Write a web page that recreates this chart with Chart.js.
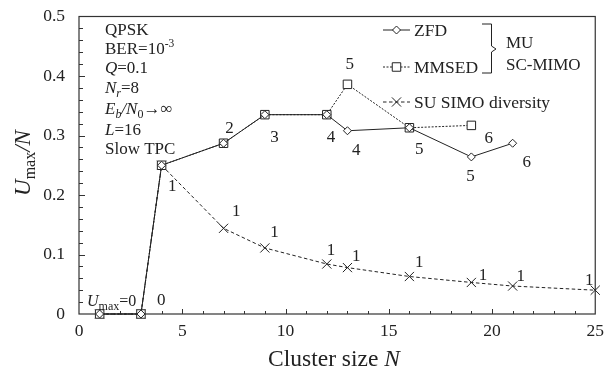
<!DOCTYPE html>
<html>
<head>
<meta charset="utf-8">
<script src="https://cdn.jsdelivr.net/npm/chart.js@4.4.1/dist/chart.umd.min.js"></script>
<style>
  html, body { margin: 0; padding: 0; background: #fff; }
</style>
</head>
<body>
<canvas id="chartCanvas" width="611" height="372"></canvas>
<script>
// --- data ---
const zfdSizes = [1, 3, 4, 7, 9, 12, 13, 16, 19, 21];
const zfdValues = [0, 0, 0.25, 0.287, 0.335, 0.335, 0.308, 0.313, 0.264, 0.287];

const mmsedSizes = [1, 3, 4, 7, 9, 12, 13, 16, 19];
const mmsedValues = [0, 0, 0.25, 0.287, 0.335, 0.335, 0.386, 0.313, 0.317];

const suSizes = [1, 3, 4, 7, 9, 12, 13, 16, 19, 21, 25];
const suValues = [0, 0, 0.25, 0.144, 0.111, 0.084, 0.078, 0.063, 0.053, 0.047, 0.040];

const xTicks = [0, 5, 10, 15, 20, 25];
const yTicks = [0, 0.1, 0.2, 0.3, 0.4, 0.5];

// number of users served, written next to the points (data coords)
const userLabels = ["1", "2", "3", "4", "5", "4", "5", "6", "5", "6",
                    "1", "1", "1", "1", "1", "1", "1", "1", "0"];
const userLabelX = [4.52, 7.29, 9.47, 12.2, 13.11, 13.43, 16.48, 19.84, 18.96, 21.68,
                    7.61, 9.47, 12.2, 13.43, 16.48, 19.57, 21.39, 24.71, 3.98];
const userLabelY = [0.215, 0.312, 0.297, 0.297, 0.42, 0.2745, 0.276, 0.2955, 0.2317, 0.254,
                    0.172, 0.137, 0.107, 0.097, 0.087, 0.065, 0.063, 0.0555, 0.023];

const INK = "#222";
const SERIF = "'Liberation Serif', 'DejaVu Serif', serif";

const toPoints = (xs, ys) => xs.map((x, i) => ({ x, y: ys[i] }));

// draws a run of text pieces, each with its own font and vertical shift
function drawRich(ctx, parts, x, y, align) {
  let total = 0;
  parts.forEach(p => { ctx.font = p.font; total += ctx.measureText(p.text).width; });
  let cx = align === "center" ? x - total / 2 : x;
  ctx.textAlign = "left";
  ctx.textBaseline = "alphabetic";
  parts.forEach(p => {
    ctx.font = p.font;
    ctx.fillText(p.text, cx, y + (p.dy || 0));
    cx += ctx.measureText(p.text).width;
  });
}

const f = (size, style) => `${style || ""} ${size}px ${SERIF}`;

// --- frame, inward ticks ---
const framePlugin = {
  id: "frame",
  beforeDatasetsDraw(chart) {
    const { ctx, chartArea: a, scales: { x, y } } = chart;
    ctx.save();
    ctx.strokeStyle = "#333";
    ctx.lineWidth = 1.2;
    ctx.strokeRect(a.left, a.top, a.right - a.left, a.bottom - a.top);
    ctx.lineWidth = 1;
    ctx.beginPath();
    for (let i = 1; i < 25; i++) {
      const px = Math.round(x.getPixelForValue(i)) + 0.5;
      const len = i % 5 === 0 ? 5 : 3;
      ctx.moveTo(px, a.bottom);
      ctx.lineTo(px, a.bottom - len);
    }
    for (let j = 1; j < 25; j++) {
      const py = Math.round(y.getPixelForValue(j * 0.02)) + 0.5;
      const len = j % 5 === 0 ? 6 : 4;
      ctx.moveTo(a.left, py);
      ctx.lineTo(a.left + len, py);
    }
    ctx.stroke();
    ctx.restore();
  }
};

// --- texts, legend, bracket, axis titles ---
const notesPlugin = {
  id: "notes",
  afterDraw(chart) {
    const { ctx, scales: { x, y } } = chart;
    ctx.save();
    ctx.fillStyle = INK;

    // user counts
    ctx.font = f(17);
    ctx.textAlign = "center";
    ctx.textBaseline = "middle";
    userLabels.forEach((t, i) => {
      ctx.fillText(t, x.getPixelForValue(userLabelX[i]), y.getPixelForValue(userLabelY[i]));
    });

    // U_max = 0
    drawRich(ctx, [
      { text: "U", font: f(16, "italic") },
      { text: "max", font: f(12), dy: 4 },
      { text: "=0", font: f(16) }
    ], 87, 306);

    // parameter block
    const lx = 105;
    drawRich(ctx, [{ text: "QPSK", font: f(17) }], lx, 35);
    drawRich(ctx, [{ text: "BER=10", font: f(17) }, { text: "-3", font: f(11.5), dy: -7 }], lx, 54);
    drawRich(ctx, [{ text: "Q", font: f(17, "italic") }, { text: "=0.1", font: f(17) }], lx, 73);
    drawRich(ctx, [
      { text: "N", font: f(17, "italic") },
      { text: "r", font: f(12, "italic"), dy: 4 },
      { text: "=8", font: f(17) }
    ], lx, 93);
    drawRich(ctx, [
      { text: "E", font: f(17, "italic") },
      { text: "b", font: f(12, "italic"), dy: 4 },
      { text: "/", font: f(17, "italic") },
      { text: "N", font: f(17, "italic") },
      { text: "0", font: f(12), dy: 4 },
      { text: "\u2192\u221E", font: f(17) }
    ], lx, 114);
    drawRich(ctx, [{ text: "L", font: f(17, "italic") }, { text: "=16", font: f(17) }], lx, 135);
    drawRich(ctx, [{ text: "Slow TPC", font: f(17) }], lx, 154);

    // legend
    const legend = [
      { label: "ZFD", y: 30, dash: [], style: "rectRot", r: 4 },
      { label: "MMSED", y: 67, dash: [2, 1.5], style: "rect", r: 6 },
      { label: "SU SIMO diversity", y: 102, dash: [3.5, 2.5], style: "crossRot", r: 6.5 }
    ];
    legend.forEach(it => {
      ctx.strokeStyle = INK;
      ctx.lineWidth = 1;
      ctx.setLineDash(it.dash);
      ctx.beginPath();
      ctx.moveTo(383, it.y);
      ctx.lineTo(410, it.y);
      ctx.stroke();
      ctx.setLineDash([]);
      ctx.fillStyle = "#fff";
      Chart.helpers.drawPoint(ctx, { pointStyle: it.style, radius: it.r, borderWidth: 1 }, 396.5, it.y);
      ctx.fillStyle = INK;
      drawRich(ctx, [{ text: it.label, font: f(17.5) }], 414, it.y + 6);
    });

    // bracket grouping ZFD and MMSED
    ctx.strokeStyle = INK;
    ctx.lineWidth = 1;
    ctx.beginPath();
    ctx.moveTo(482, 24);
    ctx.lineTo(491.5, 24);
    ctx.lineTo(491.5, 46);
    ctx.lineTo(496, 49);
    ctx.lineTo(491.5, 52);
    ctx.lineTo(491.5, 73);
    ctx.lineTo(482, 73);
    ctx.stroke();
    drawRich(ctx, [{ text: "MU", font: f(17) }], 506, 48);
    drawRich(ctx, [{ text: "SC-MIMO", font: f(17) }], 506, 70);

    // axis titles
    drawRich(ctx, [
      { text: "Cluster size ", font: f(23.5) },
      { text: "N", font: f(23.5, "italic") }
    ], 334, 366, "center");

    ctx.translate(30, 163);
    ctx.rotate(-Math.PI / 2);
    drawRich(ctx, [
      { text: "U", font: f(23, "italic") },
      { text: "max", font: f(16), dy: 5 },
      { text: "/N", font: f(23, "italic") }
    ], 0, 0, "center");
    ctx.restore();
  }
};

const lineBase = {
  showLine: true,
  borderColor: INK,
  borderWidth: 1,
  pointBorderColor: INK,
  pointBackgroundColor: "#fff",
  pointBorderWidth: 1,
  clip: false
};

new Chart(document.getElementById("chartCanvas"), {
  type: "scatter",
  data: {
    datasets: [
      { ...lineBase, label: "ZFD", data: toPoints(zfdSizes, zfdValues),
        pointStyle: "rectRot", pointRadius: 4 },
      { ...lineBase, label: "MMSED", data: toPoints(mmsedSizes, mmsedValues),
        borderDash: [2, 1.5], pointStyle: "rect", pointRadius: 6 },
      { ...lineBase, label: "SU SIMO diversity", data: toPoints(suSizes, suValues),
        borderDash: [3.5, 2.5], pointStyle: "crossRot", pointRadius: 6.5 }
    ]
  },
  options: {
    responsive: false,
    animation: false,
    layout: { padding: { top: 14, right: 11, left: 0, bottom: 0 } },
    plugins: {
      legend: { display: false },
      tooltip: { enabled: false }
    },
    scales: {
      x: {
        type: "linear",
        min: 0,
        max: 25,
        afterBuildTicks: s => { s.ticks = xTicks.map(v => ({ value: v })); },
        afterFit: s => { s.height = 58; },
        grid: { display: false, drawTicks: false },
        border: { display: false },
        ticks: { color: INK, padding: 7, font: { family: SERIF, size: 17.5 } }
      },
      y: {
        type: "linear",
        min: 0,
        max: 0.5,
        afterBuildTicks: s => { s.ticks = yTicks.map(v => ({ value: v })); },
        afterFit: s => { s.width = 79; },
        grid: { display: false },
        border: { display: false },
        ticks: {
          color: INK,
          padding: 6,
          font: { family: SERIF, size: 17.5 },
          callback: v => String(+v.toFixed(1))
        }
      }
    }
  },
  plugins: [framePlugin, notesPlugin]
});
</script>
</body>
</html>
